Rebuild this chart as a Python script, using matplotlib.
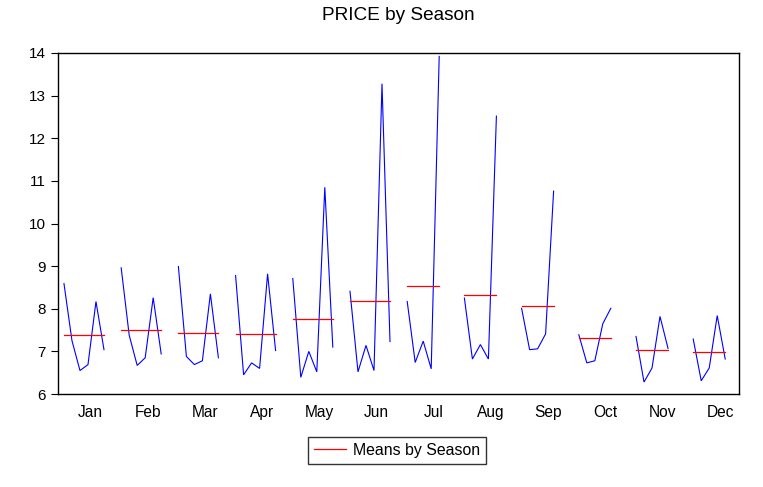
import numpy as np
import matplotlib
matplotlib.use("Agg")
import matplotlib.pyplot as plt
from matplotlib.lines import Line2D

plt.rcParams['font.family'] = ['Liberation Sans', 'DejaVu Sans']

months = ['Jan', 'Feb', 'Mar', 'Apr', 'May', 'Jun',
          'Jul', 'Aug', 'Sep', 'Oct', 'Nov', 'Dec']

# price per year within each month (6 years Jan-Jun, 5 years Jul-Dec)
jan = [8.59, 7.25, 6.55, 6.69, 8.17, 7.04]
feb = [8.96, 7.38, 6.67, 6.85, 8.26, 6.94]
mar = [8.99, 6.88, 6.69, 6.78, 8.35, 6.85]
apr = [8.78, 6.45, 6.73, 6.60, 8.82, 7.02]
may = [8.71, 6.39, 7.00, 6.52, 10.85, 7.10]
jun = [8.41, 6.52, 7.14, 6.55, 13.28, 7.23]
jul = [8.17, 6.74, 7.24, 6.59, 13.92]
aug = [8.25, 6.82, 7.16, 6.82, 12.52]
sep = [8.01, 7.04, 7.06, 7.41, 10.76]
oct_ = [7.39, 6.73, 6.78, 7.65, 8.01]
nov = [7.35, 6.28, 6.61, 7.82, 7.07]
dec = [7.29, 6.31, 6.61, 7.84, 6.82]
season_values = [jan, feb, mar, apr, may, jun, jul, aug, sep, oct_, nov, dec]

yticks = [6, 7, 8, 9, 10, 11, 12, 13, 14]

# horizontal layout (units = spacing between years)
step = 1.0
slot = 7.15

fig = plt.figure(figsize=(7.63, 4.87), dpi=100)
ax = fig.add_axes([58.3 / 763, 93 / 487, 681 / 763, 341 / 487])

for m, vals in enumerate(season_values):
    xs = m * slot + np.arange(len(vals)) * step
    ax.plot(xs, vals, color='#0000ff', lw=0.8, solid_joinstyle='miter')
    mean = np.mean(vals)
    ax.plot([xs[0], xs[-1]], [mean, mean], color='#ff0000', lw=0.9)

ax.set_xlim(-0.71, 84.41)
ax.set_ylim(6, 14)
ax.set_yticks(yticks)
ax.set_yticklabels([str(t) for t in yticks], fontsize=11)
ax.set_xticks([m * slot + 3.35 for m in range(12)])
ax.set_xticklabels(months, fontsize=11.2)
ax.tick_params(axis='x', length=0, pad=8)
ax.tick_params(axis='y', direction='out', length=5, width=0.8, pad=4)
for sp in ax.spines.values():
    sp.set_linewidth(1.0)
    sp.set_color('black')

fig.text(398.8 / 763, 1 - 15 / 487, 'PRICE by Season', ha='center', va='center',
         fontsize=13.7)

handle = Line2D([], [], color='#ff0000', lw=0.9)
leg = fig.legend([handle], ['Means by Season'], loc='center',
                 bbox_to_anchor=(397 / 763, 1 - 450.5 / 487), fontsize=11.4,
                 frameon=True, fancybox=False, edgecolor='black',
                 handlelength=2.0, borderpad=0.4, handletextpad=0.45)
leg.get_frame().set_linewidth(1.0)

fig.savefig('out.png', dpi=100)
